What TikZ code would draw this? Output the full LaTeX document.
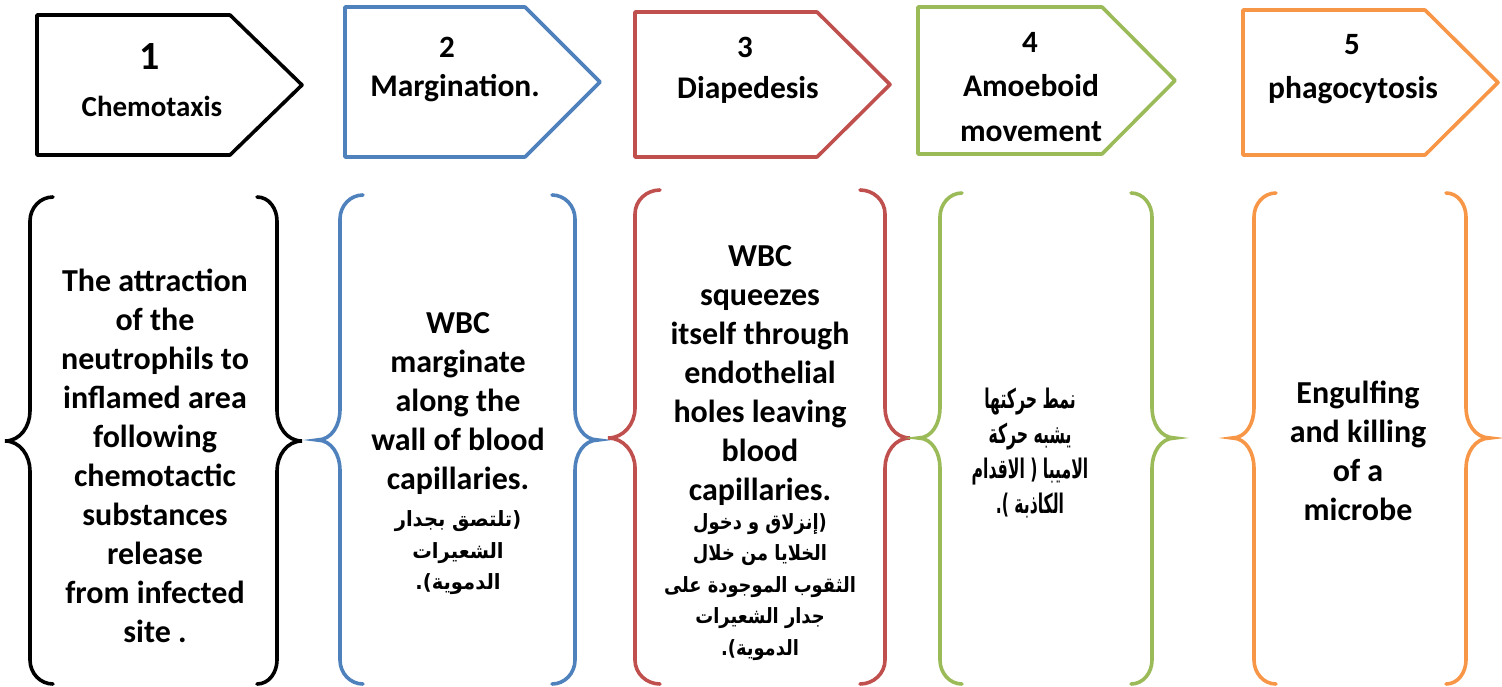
\documentclass[tikz,border=0pt]{standalone}
\usepackage{fontspec}
\setmainfont{Carlito}
\newfontfamily\arabicfont[Script=Arabic]{DejaVu Sans}
\TeXXeTstate=1
\definecolor{cblue}{HTML}{4F81BD}
\definecolor{cred}{HTML}{C0504D}
\definecolor{cgreen}{HTML}{9BBB59}
\definecolor{corange}{HTML}{F79646}
\newcommand{\arrowbox}[6]{%
  \draw[boxline,#1] (#2,#5) -- (#3,#5) -- (#4,{(#5+#6)/2}) -- (#3,#6) -- (#2,#6) -- cycle;}
\newcommand{\leftbrace}[7]{%
  \draw[braceline,#1] (#2,#5) to[out=180,in=90] (#3,{#5+24}) -- (#3,{#7-30})
    to[out=270,in=0] (#4,#7) to[out=0,in=90] (#3,{#7+30}) -- (#3,{#6-24})
    to[out=270,in=180] (#2,#6);}
\newcommand{\rightbrace}[7]{%
  \draw[braceline,#1] (#2,#5) to[out=0,in=90] (#3,{#5+24}) -- (#3,{#7-30})
    to[out=270,in=180] (#4,#7) to[out=180,in=90] (#3,{#7+30}) -- (#3,{#6-24})
    to[out=270,in=0] (#2,#6);}
\begin{document}
\begin{tikzpicture}[x=1pt,y=-1pt,
  boxline/.style={line width=3.6pt,line join=round},
  braceline/.style={line width=3.6pt,line cap=round},
  hnum/.style={font=\bfseries\fontsize{31}{37}\selectfont,inner sep=0pt},
  hbig/.style={font=\bfseries\fontsize{40}{48}\selectfont,inner sep=0pt},
  hlab/.style={font=\bfseries\fontsize{31.5}{45}\selectfont,inner sep=0pt,align=center},
  hlabs/.style={font=\bfseries\fontsize{29}{45}\selectfont,inner sep=0pt,align=center},
  body/.style={font=\bfseries\fontsize{32}{39}\selectfont,inner sep=0pt,align=center},
  arab/.style={font=\arabicfont\bfseries\fontsize{21}{31.5}\selectfont,inner sep=0pt,align=center},
  arabb/.style={font=\arabicfont\bfseries\fontsize{27}{35}\selectfont,inner sep=0pt,align=center}]
\useasboundingbox (0,0) rectangle (1502,686);
% header arrows
\arrowbox{black}{37}{230}{302}{15}{155}
\arrowbox{cblue}{345}{525}{600}{7}{157}
\arrowbox{cred}{635}{817}{890}{12}{157}
\arrowbox{cgreen}{918}{1102}{1175}{7}{154}
\arrowbox{corange}{1243}{1425}{1498}{10}{155}
\node[hbig] (n1) at (150,57) {1};
\node[hlabs] (l1) at (152,106) {Chemotaxis};
\node[hnum] (n2) at (447,47) {2};
\node[hlab] (l2) at (455,88) {Margination.};
\node[hnum] (n3) at (745,47) {3};
\node[hlab] (l3) at (748,90) {Diapedesis};
\node[hnum] (n4) at (1030,42) {4};
\node[hlab] (l4) at (1031,108) {Amoeboid\\movement};
\node[hnum] (n5) at (1352,45) {5};
\node[hlab] (l5) at (1353,90) {phagocytosis};
% braces
\leftbrace{black}{53}{30}{5}{197}{684}{441}
\rightbrace{black}{257}{277}{302}{197}{684}{441}
\leftbrace{cblue}{363}{340}{317}{195}{684}{440}
\rightbrace{cblue}{552}{575}{598}{195}{684}{440}
\leftbrace{cred}{660}{635}{608}{190}{684}{438}
\rightbrace{cred}{860}{885}{910}{190}{684}{438}
\leftbrace{cgreen}{962}{940}{918}{193}{684}{438}
\rightbrace{cgreen}{1131}{1152}{1175}{193}{684}{438}
\leftbrace{corange}{1276}{1254}{1232}{193}{684}{438}
\rightbrace{corange}{1446}{1466}{1490}{193}{684}{438}
% body texts
\node[body] (t1) at (155,456) {The attraction\\of the\\neutrophils to\\inflamed area\\following\\chemotactic\\substances\\release\\from infected\\site .};
\node[body] (t2) at (458,404) {WBC\\marginate\\along the\\wall of blood\\capillaries.};
\begin{scope}[shift={(458,553)},xscale=0.93]
\node[arab,transform shape] (a2) at (0,0) {\beginR(تلتصق بجدار\endR\\\beginR الشعيرات\endR\\\beginR الدموية).\endR};
\end{scope}
\node[body] (t3) at (760,376) {WBC\\squeezes\\itself through\\endothelial\\holes leaving\\blood\\capillaries.};
\begin{scope}[shift={(760,587)},xscale=0.85]
\node[arab,transform shape] (a3) at (0,0) {\beginR(إنزلاق و دخول\endR\\\beginR الخلايا من خلال\endR\\\beginR الثقوب الموجودة على\endR\\\beginR جدار الشعيرات\endR\\\beginR الدموية).\endR};
\end{scope}
\begin{scope}[shift={(1030,453)},xscale=0.58]
\node[arabb,transform shape] (a4) at (0,0) {\beginR نمط حركتها\endR\\\beginR يشبه حركة\endR\\\beginR الاميبا ( الاقدام\endR\\\beginR الكاذبة ).\endR};
\end{scope}
\node[body] (t5) at (1358,451) {Engulfing\\and killing\\of a\\microbe};
\end{tikzpicture}
\end{document}
